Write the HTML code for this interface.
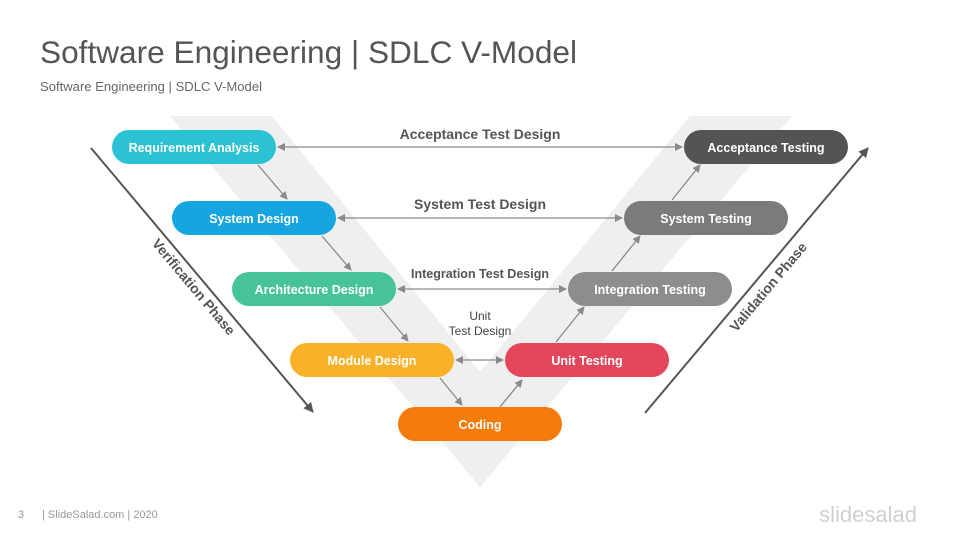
<!DOCTYPE html>
<html><head><meta charset="utf-8"><style>
html,body{margin:0;padding:0;background:#fff;}
svg{display:block;font-family:"Liberation Sans",sans-serif;}
</style></head><body>
<svg width="960" height="540" viewBox="0 0 960 540" xmlns="http://www.w3.org/2000/svg">
<defs>
<marker id="a" markerWidth="8" markerHeight="8" refX="7" refY="4" orient="auto-start-reverse" markerUnits="userSpaceOnUse"><path d="M0,0 L8,4 L0,8 Z" fill="#8a8a8a"/></marker>
<marker id="b" markerWidth="10" markerHeight="10" refX="9" refY="5" orient="auto" markerUnits="userSpaceOnUse"><path d="M0,0 L10,5 L0,10 Z" fill="#555"/></marker>
</defs>
<text x="40" y="63" font-size="31.5" fill="#555" textLength="537" lengthAdjust="spacingAndGlyphs">Software Engineering | SDLC V-Model</text>
<text x="40" y="91" font-size="12.5" fill="#666" textLength="222" lengthAdjust="spacingAndGlyphs">Software Engineering  | SDLC V-Model</text>
<polygon points="170,116 272,116 480,372 690,116 792,116 480,487" fill="#efefef"/>
<line x1="91" y1="148" x2="313" y2="412" stroke="#555" stroke-width="2" marker-end="url(#b)"/>
<line x1="645" y1="413" x2="868" y2="148" stroke="#555" stroke-width="2" marker-end="url(#b)"/>
<text transform="translate(190,290) rotate(50)" text-anchor="middle" font-size="14" font-weight="bold" fill="#555">Verification Phase</text>
<text transform="translate(772,290) rotate(-50)" text-anchor="middle" font-size="14" font-weight="bold" fill="#555">Validation Phase</text>
<g stroke="#8a8a8a" stroke-width="1.3" fill="none">
<line x1="278" y1="147" x2="682" y2="147" marker-start="url(#a)" marker-end="url(#a)"/>
<line x1="338" y1="218" x2="622" y2="218" marker-start="url(#a)" marker-end="url(#a)"/>
<line x1="398" y1="289" x2="566" y2="289" marker-start="url(#a)" marker-end="url(#a)"/>
<line x1="456" y1="360" x2="503" y2="360" marker-start="url(#a)" marker-end="url(#a)"/>
<line x1="258" y1="165" x2="287" y2="199" marker-end="url(#a)"/>
<line x1="322" y1="236" x2="351" y2="270" marker-end="url(#a)"/>
<line x1="380" y1="307" x2="408" y2="341" marker-end="url(#a)"/>
<line x1="440" y1="378" x2="462" y2="405" marker-end="url(#a)"/>
<line x1="500" y1="407" x2="522" y2="380" marker-end="url(#a)"/>
<line x1="556" y1="342" x2="584" y2="307" marker-end="url(#a)"/>
<line x1="612" y1="271" x2="640" y2="236" marker-end="url(#a)"/>
<line x1="672" y1="200" x2="700" y2="165" marker-end="url(#a)"/>
</g>
<g font-weight="bold" fill="#555" text-anchor="middle">
<text x="480" y="139" font-size="14">Acceptance Test Design</text>
<text x="480" y="209" font-size="14">System Test Design</text>
<text x="480" y="278" font-size="12.5">Integration Test Design</text>
<text x="480" y="320" font-size="12" font-weight="normal" fill="#444">Unit</text>
<text x="480" y="335" font-size="12" font-weight="normal" fill="#444">Test Design</text>
</g>
<g font-size="12.5" font-weight="bold" fill="#fff" text-anchor="middle">
<rect x="112" y="130" width="164" height="34" rx="17" fill="#2bc3d3"/><text x="194" y="152">Requirement Analysis</text>
<rect x="172" y="201" width="164" height="34" rx="17" fill="#15a5e1"/><text x="254" y="223">System Design</text>
<rect x="232" y="272" width="164" height="34" rx="17" fill="#46c39a"/><text x="314" y="294">Architecture Design</text>
<rect x="290" y="343" width="164" height="34" rx="17" fill="#f8b129"/><text x="372" y="365">Module Design</text>
<rect x="398" y="407" width="164" height="34" rx="17" fill="#f57b0b"/><text x="480" y="429">Coding</text>
<rect x="505" y="343" width="164" height="34" rx="17" fill="#e3465a"/><text x="587" y="365">Unit Testing</text>
<rect x="568" y="272" width="164" height="34" rx="17" fill="#8d8d8d"/><text x="650" y="294">Integration Testing</text>
<rect x="624" y="201" width="164" height="34" rx="17" fill="#7b7b7b"/><text x="706" y="223">System Testing</text>
<rect x="684" y="130" width="164" height="34" rx="17" fill="#545454"/><text x="766" y="152">Acceptance Testing</text>
</g>
<text x="18" y="518" font-size="11" fill="#999">3</text>
<text x="42" y="518" font-size="11" fill="#999">| SlideSalad.com | 2020</text>
<text x="917" y="522" font-size="22" fill="#d0d0d0" text-anchor="end">slidesalad</text>
</svg>
</body></html>
